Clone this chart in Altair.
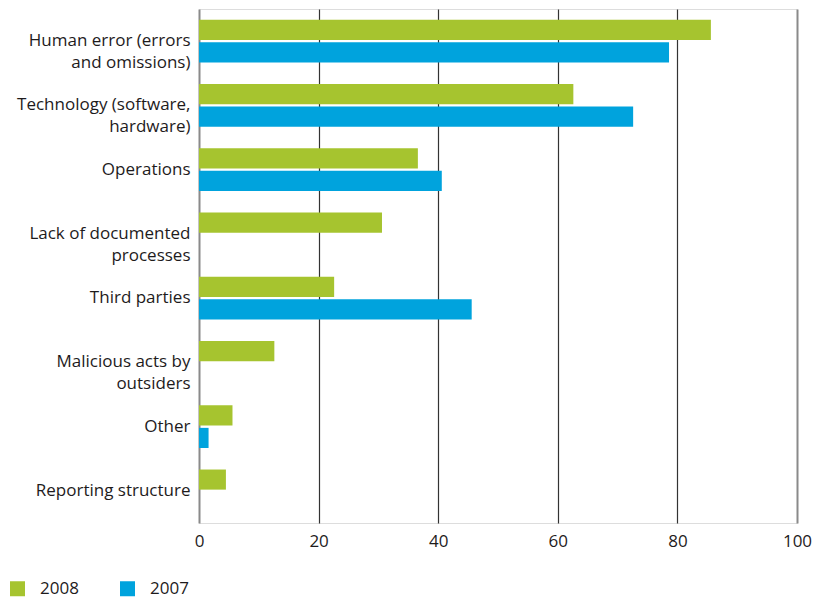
import altair as alt
import pandas as pd

categories = [
    "Human error (errors\nand omissions)",
    "Technology (software,\nhardware)",
    "Operations",
    "Lack of documented\nprocesses",
    "Third parties",
    "Malicious acts by\noutsiders",
    "Other",
    "Reporting structure",
]
values_2008 = [85.6, 62.6, 36.6, 30.6, 22.6, 12.6, 5.6, 4.5]
values_2007 = [78.6, 72.6, 40.6, None, 45.6, None, 1.6, None]
years = ["2008", "2007"]
colors = ["#A6C42F", "#00A3DD"]
x_ticks = [0, 20, 40, 60, 80, 100]

rows = []
for c, v8, v7 in zip(categories, values_2008, values_2007):
    rows.append({"category": c, "year": "2008", "value": v8})
    if v7 is not None:
        rows.append({"category": c, "year": "2007", "value": v7})
df = pd.DataFrame(rows)

FONT = "Open Sans"
TEXT = "#1e1b1c"
FS = 17

chart = alt.Chart(df).mark_bar().encode(
    x=alt.X(
        "value:Q",
        scale=alt.Scale(domain=[0, 100], nice=False),
        axis=alt.Axis(
            values=x_ticks,
            title=None,
            domain=False,
            ticks=False,
            grid=True,
            gridColor=alt.condition("datum.value == 0 || datum.value == 100", alt.value("#8a8a8a"), alt.value("#333333")),
            gridWidth=alt.condition("datum.value == 0 || datum.value == 100", alt.value(2), alt.value(1.2)),
            labelFont=FONT,
            labelFontSize=FS,
            labelColor=TEXT,
            labelPadding=10,
            labelFlush=False,
        ),
    ),
    y=alt.Y(
        "category:N",
        sort=categories,
        scale=alt.Scale(domain=categories, paddingInner=0, paddingOuter=0),
        axis=alt.Axis(
            title=None,
            domain=False,
            ticks=False,
            grid=False,
            labelFont=FONT,
            labelFontSize=FS,
            labelColor=TEXT,
            labelPadding=9,
            labelLineHeight=22,
            labelExpr="split(datum.label, '\\n')",
            labelLimit=300,
        ),
    ),
    yOffset=alt.YOffset(
        "year:N",
        scale=alt.Scale(domain=years, paddingInner=0.11, paddingOuter=0.477),
    ),
    color=alt.Color(
        "year:N",
        scale=alt.Scale(domain=years, range=colors),
        legend=alt.Legend(
            title=None,
            orient="none",
            direction="horizontal",
            legendX=-190,
            legendY=571,
            symbolType="square",
            symbolSize=225,
            symbolStrokeWidth=0,
            symbolOpacity=1,
            labelFont=FONT,
            labelFontSize=FS,
            labelColor=TEXT,
            labelOffset=14,
            columnPadding=40,
            padding=0,
        ),
    ),
).properties(
    width=598,
    height=514,
    padding={"left": 199, "top": 9, "right": 16, "bottom": 77},
    autosize=alt.AutoSizeParams(type="none"),
).configure_view(stroke=None).configure(background="white")

chart.save("out.html", embed_options={"renderer": "svg", "actions": False})
